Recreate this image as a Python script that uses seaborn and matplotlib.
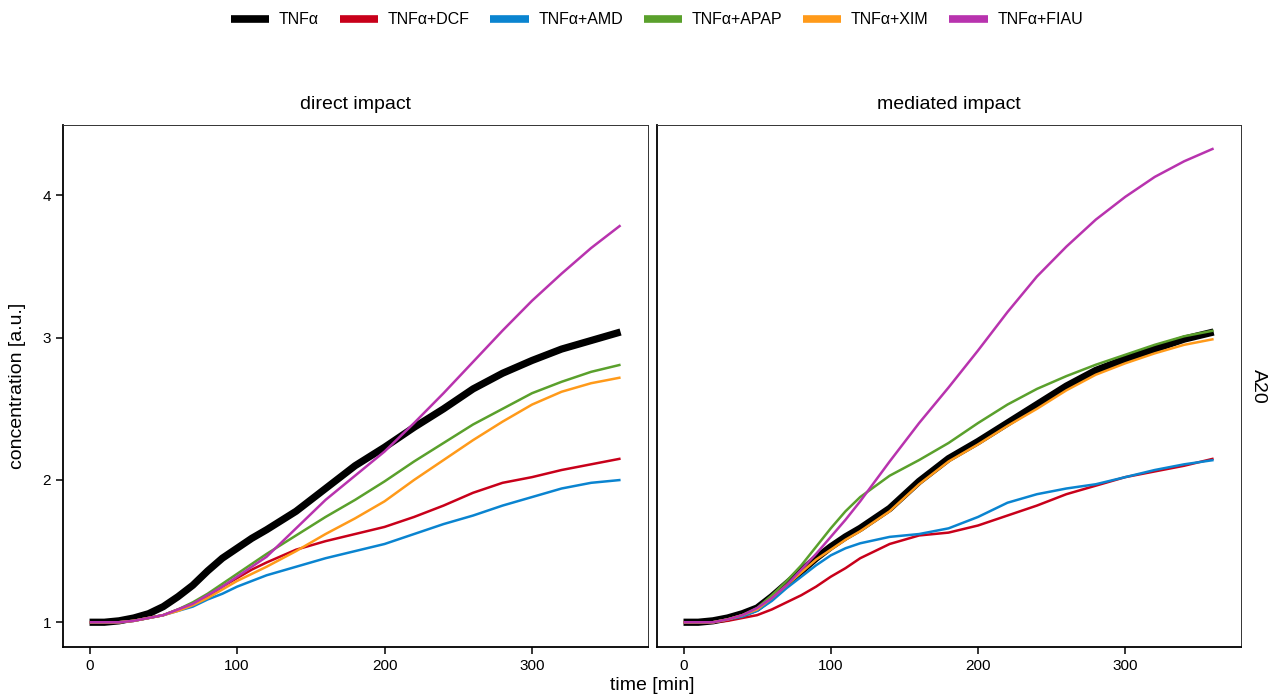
import pandas as pd
import matplotlib.pyplot as plt
import seaborn as sns
from matplotlib.lines import Line2D

# time points (min), finer where the curves bend
time = [0, 10, 20, 30, 40, 50, 60, 70, 80, 90, 100, 110, 120,
        140, 160, 180, 200, 220, 240, 260, 280, 300, 320, 340, 360]

treatments = ['TNFα', 'TNFα+DCF', 'TNFα+AMD', 'TNFα+APAP', 'TNFα+XIM', 'TNFα+FIAU']
colors = ['#000000', '#C8001A', '#0A84D0', '#5AA02C', '#FF9A1A', '#B833AE']
panels = ['direct impact', 'mediated impact']

# A20 concentration, direct impact
direct_tnf = [1.0, 1.0, 1.01, 1.03, 1.06, 1.11, 1.18, 1.26, 1.36, 1.45, 1.52, 1.59, 1.65,
              1.78, 1.94, 2.10, 2.23, 2.37, 2.50, 2.64, 2.75, 2.84, 2.92, 2.98, 3.04]
direct_dcf = [1.0, 1.0, 1.0, 1.01, 1.03, 1.05, 1.09, 1.13, 1.18, 1.25, 1.31, 1.37, 1.42,
              1.51, 1.57, 1.62, 1.67, 1.74, 1.82, 1.91, 1.98, 2.02, 2.07, 2.11, 2.15]
direct_amd = [1.0, 1.0, 1.0, 1.01, 1.03, 1.05, 1.08, 1.11, 1.16, 1.20, 1.25, 1.29, 1.33,
              1.39, 1.45, 1.50, 1.55, 1.62, 1.69, 1.75, 1.82, 1.88, 1.94, 1.98, 2.00]
direct_apap = [1.0, 1.0, 1.0, 1.01, 1.03, 1.05, 1.09, 1.14, 1.20, 1.27, 1.34, 1.41, 1.48,
               1.61, 1.74, 1.86, 1.99, 2.13, 2.26, 2.39, 2.50, 2.61, 2.69, 2.76, 2.81]
direct_xim = [1.0, 1.0, 1.0, 1.01, 1.03, 1.05, 1.08, 1.12, 1.17, 1.23, 1.29, 1.34, 1.39,
              1.50, 1.62, 1.73, 1.85, 2.00, 2.14, 2.28, 2.41, 2.53, 2.62, 2.68, 2.72]
direct_fiau = [1.0, 1.0, 1.0, 1.01, 1.03, 1.05, 1.09, 1.13, 1.19, 1.25, 1.32, 1.39, 1.46,
               1.66, 1.86, 2.03, 2.20, 2.40, 2.61, 2.83, 3.05, 3.26, 3.45, 3.63, 3.79]

# A20 concentration, mediated impact
med_tnf = [1.0, 1.0, 1.01, 1.03, 1.06, 1.10, 1.18, 1.27, 1.36, 1.45, 1.53, 1.60, 1.66,
           1.80, 1.99, 2.15, 2.27, 2.40, 2.53, 2.66, 2.77, 2.85, 2.92, 2.99, 3.04]
med_dcf = [1.0, 1.0, 1.0, 1.01, 1.03, 1.05, 1.09, 1.14, 1.19, 1.25, 1.32, 1.38, 1.45,
           1.55, 1.61, 1.63, 1.68, 1.75, 1.82, 1.90, 1.96, 2.02, 2.06, 2.10, 2.15]
med_amd = [1.0, 1.0, 1.0, 1.02, 1.04, 1.08, 1.15, 1.24, 1.32, 1.40, 1.47, 1.52, 1.555,
           1.60, 1.62, 1.66, 1.74, 1.84, 1.90, 1.94, 1.97, 2.02, 2.07, 2.11, 2.14]
med_apap = [1.0, 1.0, 1.0, 1.02, 1.05, 1.10, 1.19, 1.29, 1.40, 1.53, 1.66, 1.78, 1.88,
            2.03, 2.14, 2.26, 2.40, 2.53, 2.64, 2.73, 2.81, 2.88, 2.95, 3.01, 3.05]
med_xim = [1.0, 1.0, 1.0, 1.02, 1.05, 1.09, 1.17, 1.26, 1.35, 1.44, 1.51, 1.58, 1.64,
           1.78, 1.97, 2.13, 2.25, 2.38, 2.50, 2.63, 2.74, 2.82, 2.89, 2.95, 2.99]
med_fiau = [1.0, 1.0, 1.0, 1.02, 1.05, 1.10, 1.17, 1.26, 1.37, 1.48, 1.60, 1.72, 1.85,
            2.13, 2.40, 2.65, 2.91, 3.18, 3.43, 3.64, 3.83, 3.99, 4.13, 4.24, 4.33]

series = {
    'direct impact': [direct_tnf, direct_dcf, direct_amd, direct_apap, direct_xim, direct_fiau],
    'mediated impact': [med_tnf, med_dcf, med_amd, med_apap, med_xim, med_fiau],
}

# long format table
rows = []
for panel in panels:
    for name, vals in zip(treatments, series[panel]):
        for t, v in zip(time, vals):
            rows.append({'impact': panel, 'treatment': name, 'time': t, 'concentration': v})
df = pd.DataFrame(rows)

sns.set_style('white')
plt.rcParams['font.family'] = ['Liberation Sans', 'DejaVu Sans']
plt.rcParams['text.color'] = 'black'
plt.rcParams['xtick.color'] = 'black'
plt.rcParams['ytick.color'] = 'black'

palette = dict(zip(treatments, colors))
sizes = {name: (5.2 if name == 'TNFα' else 1.8) for name in treatments}

fig = plt.figure(figsize=(12.71, 6.96), dpi=100)
W, H = 1271, 696
top, bottom = 125, 647
rects = [(63, 648), (657, 1241)]

for i, panel in enumerate(panels):
    x0, x1 = rects[i]
    ax = fig.add_axes([x0 / W, 1 - bottom / H, (x1 - x0) / W, (bottom - top) / H])
    sub = df[df['impact'] == panel]
    sns.lineplot(data=sub, x='time', y='concentration', hue='treatment', size='treatment',
                 hue_order=treatments, size_order=treatments, palette=palette, sizes=sizes,
                 errorbar=None, legend=False, ax=ax)
    for line in ax.lines:
        line.set_solid_capstyle('butt')
        line.set_solid_joinstyle('round')
    ax.set_xlim(-18, 378.6)
    ax.set_ylim(0.826, 4.495)
    ax.set_xticks([0, 100, 200, 300])
    ax.set_yticks([1, 2, 3, 4])
    ax.set_xlabel('')
    ax.set_ylabel('')
    ax.text(0.5, 1.04, panel, transform=ax.transAxes, ha='center', va='center', fontsize=14)
    for side in ['left', 'bottom']:
        ax.spines[side].set_linewidth(1.3)
        ax.spines[side].set_color('black')
    for side in ['top', 'right']:
        ax.spines[side].set_linewidth(0.7)
        ax.spines[side].set_color('#333333')
    ax.tick_params(axis='both', direction='out', length=5, width=1.1, labelsize=11,
                   color='black', labelcolor='black')
    ax.tick_params(axis='both', bottom=True, left=(i == 0), labelleft=(i == 0))

fig.text(18 / W, 1 - 386 / H, 'concentration [a.u.]', rotation=90, ha='center', va='center', fontsize=14)
fig.text(652 / W, 1 - 685 / H, 'time [min]', ha='center', va='center', fontsize=14)
fig.text(1258 / W, 1 - 386 / H, 'A20', rotation=270, ha='center', va='center', fontsize=14)

handles = [Line2D([0], [0], color=c, lw=5.5, solid_capstyle='butt') for c in colors]
fig.legend(handles, treatments, loc='center', bbox_to_anchor=(657 / W, 1 - 20 / H), ncol=6,
           frameon=False, fontsize=11.5, handlelength=2.4, handletextpad=0.6, columnspacing=1.3)

plt.savefig('out.png', dpi=100)
